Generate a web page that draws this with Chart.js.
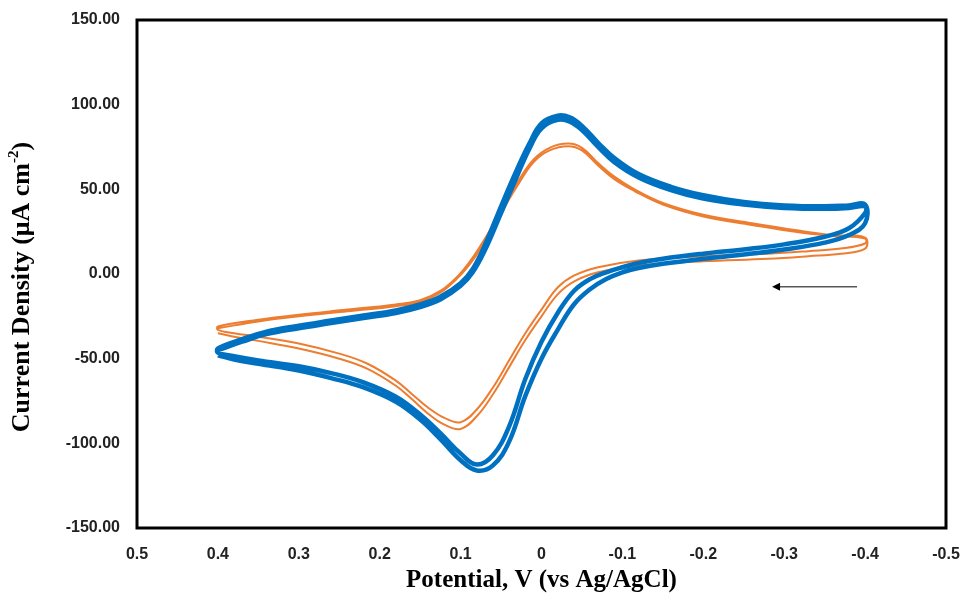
<!DOCTYPE html>
<html>
<head>
<meta charset="utf-8">
<script src="https://cdn.jsdelivr.net/npm/chart.js@4.4.1/dist/chart.umd.min.js"></script>
<style>
  html, body { margin: 0; padding: 0; background: #fff; }
</style>
</head>
<body>
<canvas id="cv" width="963" height="596"></canvas>
<script>
// Potential (V vs Ag/AgCl) and current density (uA cm-2)

// blue: anodic branch, 0.4 -> -0.4
const blueUpperV = [0.40, 0.37, 0.34, 0.30, 0.26, 0.22, 0.18, 0.15, 0.125, 0.10, 0.085, 0.07, 0.05, 0.03, 0.015, 0.0, -0.02, -0.035, -0.05, -0.07, -0.09, -0.12, -0.16, -0.20, -0.25, -0.30, -0.35, -0.38, -0.40];
const blueUpperI1 = [-45, -40, -35.5, -32, -29, -26, -23, -19.5, -15, -7, 1, 14, 36, 58, 74, 86, 91, 90, 85, 75, 66, 57, 49.5, 44.5, 41, 39, 38.5, 39, 40];
const blueUpperI2 = [-44, -38.5, -34, -30.5, -27.5, -24.5, -21.5, -18, -13.5, -5.5, 3, 17, 40, 62, 77, 89, 93.5, 92.5, 87.5, 77.5, 68.5, 59, 51.5, 46.5, 42.5, 40.5, 40, 40.5, 41];
// blue: cathodic branch, -0.4 -> 0.4
const blueLowerV = [-0.40, -0.38, -0.35, -0.30, -0.25, -0.20, -0.15, -0.12, -0.10, -0.08, -0.06, -0.04, -0.02, 0.0, 0.02, 0.04, 0.06, 0.08, 0.10, 0.125, 0.15, 0.18, 0.22, 0.26, 0.30, 0.35, 0.38, 0.40];
const blueLowerI1 = [36, 27, 22, 17.5, 14.5, 12, 9, 6.5, 4, 1, -3, -10, -23, -40, -62, -90, -107, -112.5, -106, -94, -83, -72.5, -64, -58.5, -54.5, -51, -48.5, -46.5];
const blueLowerI2 = [30, 23, 18.5, 14.5, 11.5, 9, 6, 3.5, 1, -3, -9, -18, -33, -50, -72, -99, -113, -116, -110, -97.5, -86, -75.5, -67, -61.5, -57, -53, -50.5, -48];

// orange
const orangeUpperV = [0.40, 0.35, 0.30, 0.24, 0.18, 0.15, 0.125, 0.105, 0.09, 0.075, 0.06, 0.045, 0.03, 0.01, -0.01, -0.033, -0.05, -0.07, -0.09, -0.115, -0.15, -0.20, -0.26, -0.32, -0.36, -0.40];
const orangeUpperI1 = [-32, -28, -25, -22, -19, -16.5, -11, -3, 5, 15, 27, 40, 52, 66, 73, 75.5, 73, 64, 56, 49, 41, 34, 29, 24.5, 22.5, 21];
const orangeUpperI2 = [-31, -27, -24, -21, -18, -15.5, -10, -2, 6.5, 17, 29, 42, 54, 67.5, 74.5, 77, 74.5, 65.5, 57.5, 50, 42, 35, 30, 25.5, 23, 21.5];
const orangeLowerV = [-0.40, -0.37, -0.33, -0.28, -0.20, -0.12, -0.07, -0.04, -0.02, 0.0, 0.02, 0.04, 0.06, 0.08, 0.10, 0.12, 0.14, 0.16, 0.18, 0.215, 0.25, 0.30, 0.35, 0.38, 0.40];
const orangeLowerI1 = [18, 15, 13.5, 12, 10.5, 8, 4, -1, -8, -21, -35, -51, -67, -80, -87.5, -85, -79, -71, -63, -53, -47, -41, -37, -35, -33];
const orangeLowerI2 = [15, 12, 10.5, 9, 7.5, 5, 1, -4.5, -12, -25, -39, -55, -71, -84, -91.5, -89, -82.5, -74, -66, -56, -50, -44, -39.5, -37, -35];

// scan direction arrow, [potential, current]
const arrowFrom = [-0.39, -7.6];
const arrowTo = [-0.285, -7.6];

const xTicks = { min: -0.5, max: 0.5, step: 0.1 };
const yTicks = { min: -150, max: 150, step: 50 };

function pairs(vs, is) {
    return vs.map((v, k) => ({ x: v, y: is[k] }));
}

const blueData = [].concat(
    pairs(blueUpperV, blueUpperI1), pairs(blueLowerV, blueLowerI1),
    pairs(blueUpperV, blueUpperI2), pairs(blueLowerV, blueLowerI2)
);
const orangeData = [].concat(
    pairs(orangeUpperV, orangeUpperI1), pairs(orangeLowerV, orangeLowerI1),
    pairs(orangeUpperV, orangeUpperI2), pairs(orangeLowerV, orangeLowerI2)
);

// frame, arrow and y title
const extras = {
    id: 'extras',
    afterDatasetsDraw(chart) {
        const ctx = chart.ctx;
        const a = chart.chartArea;
        const xs = chart.scales.x, ys = chart.scales.y;
        ctx.save();
        ctx.strokeStyle = '#000';
        ctx.lineWidth = 3;
        ctx.strokeRect(a.left, a.top, a.right - a.left, a.bottom - a.top);

        // arrow
        const x1 = xs.getPixelForValue(arrowFrom[0]), y1 = ys.getPixelForValue(arrowFrom[1]);
        const x2 = xs.getPixelForValue(arrowTo[0]), y2 = ys.getPixelForValue(arrowTo[1]);
        ctx.strokeStyle = '#595959';
        ctx.lineWidth = 1.5;
        ctx.beginPath();
        ctx.moveTo(x1, y1);
        ctx.lineTo(x2 + 6, y2);
        ctx.stroke();
        ctx.fillStyle = '#000';
        ctx.beginPath();
        ctx.moveTo(x2, y2);
        ctx.lineTo(x2 + 8, y2 - 4);
        ctx.lineTo(x2 + 8, y2 + 4);
        ctx.closePath();
        ctx.fill();
        ctx.restore();
    },
    afterDraw(chart) {
        const ctx = chart.ctx;
        ctx.save();
        ctx.translate(22, 287);
        ctx.rotate(-Math.PI / 2);
        ctx.fillStyle = '#000';
        ctx.textBaseline = 'middle';
        ctx.textAlign = 'left';
        const big = 'bold 26px "Liberation Serif"';
        const small = 'bold 15px "Liberation Serif"';
        const t1 = 'Current Density (\u03bcA cm', t2 = '-2', t3 = ')';
        ctx.font = big;
        const w1 = ctx.measureText(t1).width, w3 = ctx.measureText(t3).width;
        ctx.font = small;
        const w2 = ctx.measureText(t2).width;
        let x = -(w1 + w2 + w3) / 2;
        ctx.font = big;
        ctx.fillText(t1, x, 0);
        x += w1;
        ctx.font = small;
        ctx.fillText(t2, x, -8);
        x += w2;
        ctx.font = big;
        ctx.fillText(t3, x, 0);
        ctx.restore();
    }
};

const tickFont = { family: 'Liberation Sans', weight: 'bold', size: 16 };

new Chart(document.getElementById('cv').getContext('2d'), {
    type: 'scatter',
    data: {
        datasets: [
            {
                label: 'blue',
                data: blueData,
                showLine: true,
                borderColor: '#0070C0',
                borderWidth: 4.5,
                pointRadius: 0,
                tension: 0.4
            },
            {
                label: 'orange',
                data: orangeData,
                showLine: true,
                borderColor: '#ED7D31',
                borderWidth: 2,
                pointRadius: 0,
                tension: 0.4
            }
        ]
    },
    options: {
        responsive: false,
        animation: false,
        devicePixelRatio: 1,
        layout: { padding: { left: 0, top: 20, right: 17, bottom: 0 } },
        plugins: {
            legend: { display: false },
            tooltip: { enabled: false }
        },
        scales: {
            x: {
                type: 'linear',
                reverse: true,
                min: xTicks.min,
                max: xTicks.max,
                grid: { display: false, drawTicks: false },
                border: { display: false },
                ticks: {
                    stepSize: xTicks.step,
                    font: tickFont,
                    color: '#222',
                    padding: 17,
                    maxRotation: 0,
                    callback: v => String(Math.round(v * 10) / 10 || 0)
                },
                title: {
                    display: true,
                    text: 'Potential, V (vs Ag/AgCl)',
                    font: { family: 'Liberation Serif', weight: 'bold', size: 25 },
                    color: '#000',
                    padding: { top: 0, bottom: 0 }
                },
                afterFit: s => {
                    s.height = 68;
                    s.paddingLeft = 0;
                    s.paddingRight = 0;
                }
            },
            y: {
                min: yTicks.min,
                max: yTicks.max,
                grid: { display: false, drawTicks: false },
                border: { display: false },
                ticks: {
                    stepSize: yTicks.step,
                    font: tickFont,
                    color: '#222',
                    padding: 17,
                    callback: v => v.toFixed(2)
                },
                afterFit: s => {
                    s.width = 137;
                    s.paddingTop = 0;
                    s.paddingBottom = 0;
                }
            }
        }
    },
    plugins: [extras]
});
</script>
</body>
</html>
